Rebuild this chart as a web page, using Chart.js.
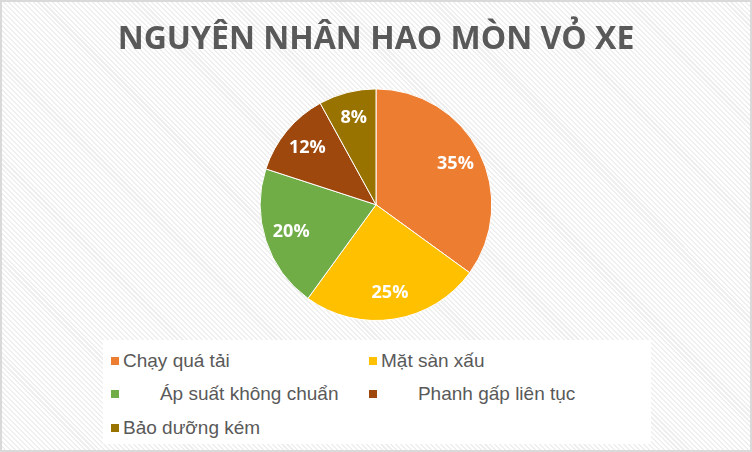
<!DOCTYPE html>
<html>
<head>
<meta charset="utf-8">
<script src="https://cdn.jsdelivr.net/npm/chart.js@4.4.1/dist/chart.umd.min.js"></script>
<style>
  html, body { margin: 0; padding: 0; }
  body { width: 752px; height: 452px; overflow: hidden; }
  #wrap {
    position: relative; width: 748px; height: 448px;
    border: 2px solid #d9d9d9;
    background: repeating-linear-gradient(45deg, #ffffff 0px, #ffffff 2px, #efefef 2px, #efefef 3.5px);
  }
  #wrap canvas { position: absolute; left: 0; top: 0; }
  #legend {
    position: absolute; left: 101px; top: 338px; width: 548px; height: 104px;
    background: #ffffff;
    font-family: "Liberation Sans", Arial, sans-serif; font-size: 19px; color: #595959;
  }
  .item { position: absolute; white-space: pre; line-height: 22px; }
  .item i { display: inline-block; width: 8px; height: 8px; margin-right: 4px; vertical-align: 2px; }
</style>
</head>
<body>
<div id="wrap">
  <canvas id="pieChart" width="748" height="448"></canvas>
  <div id="legend"></div>
</div>
<script>
var labels = ["Chạy quá tải", "Mặt sàn xấu", "Áp suất không chuẩn", "Phanh gấp liên tục", "Bảo dưỡng kém"];
var values = [35, 25, 20, 12, 8];
var colors = ['#ED7D31', '#FFC000', '#70AD47', '#9E480E', '#997300'];
// legend text in the original carries leading blanks on two entries
var legendText = ["Chạy quá tải", "Mặt sàn xấu", "       Áp suất không chuẩn", "       Phanh gấp liên tục", "Bảo dưỡng kém"];

// percent labels inside the slices
var sliceLabels = {
  id: 'sliceLabels',
  afterDatasetsDraw: function(chart) {
    var ctx = chart.ctx;
    var meta = chart.getDatasetMeta(0);
    ctx.save();
    ctx.font = 'bold 18px "Open Sans", sans-serif';
    ctx.fillStyle = '#ffffff';
    ctx.textAlign = 'center';
    ctx.textBaseline = 'middle';
    meta.data.forEach(function(arc, i) {
      var mid = (arc.startAngle + arc.endAngle) / 2;
      var r = arc.outerRadius * 0.77;
      ctx.fillText(values[i] + '%', arc.x + Math.cos(mid) * r, arc.y + Math.sin(mid) * r);
    });
    ctx.restore();
  }
};

var ctxP = document.getElementById("pieChart").getContext('2d');
var myPieChart = new Chart(ctxP, {
  type: 'pie',
  data: {
    labels: labels,
    datasets: [{
      data: values,
      backgroundColor: colors,
      borderColor: '#ffffff',
      borderWidth: 1
    }]
  },
  options: {
    responsive: false,
    animation: false,
    layout: { padding: { top: 0, bottom: 129 } },
    plugins: {
      legend: { display: false },
      tooltip: { enabled: false },
      title: {
        display: true,
        text: 'NGUYÊN NHÂN HAO MÒN VỎ XE',
        color: '#595959',
        font: { family: '"Open Sans", sans-serif', size: 32, weight: 'bold' },
        padding: { top: 19, bottom: 29 }
      }
    }
  },
  plugins: [sliceLabels]
});

// two-column legend under the pie
var pos = [[8, 10], [266, 10], [8, 43], [266, 43], [8, 77]];
var lg = document.getElementById('legend');
labels.forEach(function(l, i) {
  var d = document.createElement('div');
  d.className = 'item';
  d.style.left = pos[i][0] + 'px';
  d.style.top = pos[i][1] + 'px';
  d.innerHTML = '<i style="background:' + colors[i] + '"></i>' + legendText[i];
  lg.appendChild(d);
});
</script>
</body>
</html>
